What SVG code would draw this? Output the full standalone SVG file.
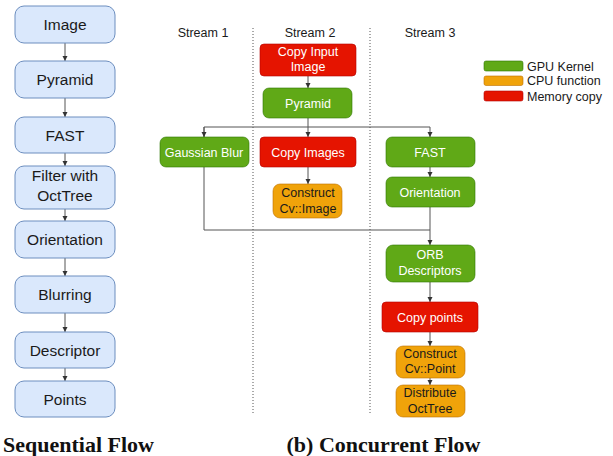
<svg xmlns="http://www.w3.org/2000/svg" width="613" height="456" viewBox="0 0 613 456">
<defs>
<marker id="ah" markerUnits="userSpaceOnUse" markerWidth="6" markerHeight="6" refX="5" refY="3" orient="auto">
<path d="M0,0.5 L5,3 L0,5.5 z" fill="#333"/>
</marker>
<style>
.lb{fill:#dae8fc;stroke:#6c8ebf;stroke-width:1}
.g{fill:#60a917;stroke:#2d7600;stroke-width:0.6}
.r{fill:#e51400;stroke:#b20000;stroke-width:0.6}
.o{fill:#f0a30a;stroke:#bd7000;stroke-width:0.6}
.t{font-family:"Liberation Sans",Arial,sans-serif;text-anchor:middle}
.tl{font-size:15.5px;fill:#1a1a1a}
.tw{font-size:12.5px;fill:#ffffff}
.tb{font-size:12.5px;fill:#1a1a1a}
.st{font-family:"Liberation Sans",Arial,sans-serif;font-size:12.5px;fill:#1a1a1a;text-anchor:middle}
.lg{font-family:"Liberation Sans",Arial,sans-serif;font-size:12.5px;fill:#1a1a1a}
.cap{font-family:"Liberation Serif","Times New Roman",serif;font-weight:bold;font-size:22px;fill:#111}
.c{fill:none;stroke:#555;stroke-width:1}
.ca{fill:none;stroke:#555;stroke-width:1;marker-end:url(#ah)}
.dl{stroke:#555;stroke-width:1;stroke-dasharray:1,2}
</style>
</defs>
<rect width="613" height="456" fill="#fff"/>

<!-- stream separators -->
<g id="lanes">
<line class="dl" x1="253" y1="28" x2="253" y2="415"/>
<line class="dl" x1="370" y1="28" x2="370" y2="415"/>
<text class="st" x="203" y="37">Stream 1</text>
<text class="st" x="310" y="37">Stream 2</text>
<text class="st" x="430" y="37">Stream 3</text>
</g>

<g id="connectors">
<!-- sequential -->
<line class="ca" x1="65" y1="43" x2="65" y2="61"/>
<line class="ca" x1="65" y1="98" x2="65" y2="117"/>
<line class="ca" x1="65" y1="153" x2="65" y2="166"/>
<line class="ca" x1="65" y1="209" x2="65" y2="221"/>
<line class="ca" x1="65" y1="258" x2="65" y2="276"/>
<line class="ca" x1="65" y1="313" x2="65" y2="332"/>
<line class="ca" x1="65" y1="368" x2="65" y2="381"/>
<!-- concurrent -->
<line class="ca" x1="308" y1="76" x2="308" y2="88"/>
<line class="ca" x1="308" y1="118" x2="308" y2="137"/>
<polyline class="c" points="204,137 204,127 430,127"/>
<line class="ca" x1="204" y1="127" x2="204" y2="137"/>
<line class="ca" x1="430" y1="127" x2="430" y2="137"/>
<line class="ca" x1="308" y1="167" x2="308" y2="184"/>
<line class="ca" x1="430" y1="167" x2="430" y2="177"/>
<polyline class="c" points="204,167 204,230 430,230"/>
<line class="ca" x1="430" y1="207" x2="430" y2="245"/>
<line class="ca" x1="430" y1="282" x2="430" y2="302"/>
<line class="ca" x1="430" y1="332" x2="430" y2="346"/>
<line class="ca" x1="430" y1="378" x2="430" y2="385"/>
</g>

<!-- sequential nodes -->
<g id="s-image"><rect class="lb" x="15" y="6" width="100" height="37" rx="9"/><text class="t tl" x="65" y="30">Image</text></g>
<g id="s-pyramid"><rect class="lb" x="15" y="61" width="100" height="37" rx="9"/><text class="t tl" x="65" y="85">Pyramid</text></g>
<g id="s-fast"><rect class="lb" x="15" y="117" width="100" height="36" rx="9"/><text class="t tl" x="65" y="140.5">FAST</text></g>
<g id="s-filter"><rect class="lb" x="15" y="166" width="100" height="43" rx="9"/><text class="t tl" x="65" y="180.5">Filter with</text><text class="t tl" x="65" y="200.5">OctTree</text></g>
<g id="s-orientation"><rect class="lb" x="15" y="221" width="100" height="37" rx="9"/><text class="t tl" x="65" y="245">Orientation</text></g>
<g id="s-blurring"><rect class="lb" x="15" y="276" width="100" height="37" rx="9"/><text class="t tl" x="65" y="300">Blurring</text></g>
<g id="s-descriptor"><rect class="lb" x="15" y="332" width="100" height="36" rx="9"/><text class="t tl" x="65" y="355.5">Descriptor</text></g>
<g id="s-points"><rect class="lb" x="15" y="381" width="100" height="36" rx="9"/><text class="t tl" x="65" y="404.5">Points</text></g>

<!-- concurrent nodes -->
<g id="c-copyinput"><rect class="r" x="260" y="44" width="96" height="32" rx="4"/><text class="t tw" x="308" y="55.5">Copy Input</text><text class="t tw" x="308" y="70.5">Image</text></g>
<g id="c-pyramid"><rect class="g" x="263" y="88" width="89" height="30" rx="6"/><text class="t tw" x="308" y="107.5">Pyramid</text></g>
<g id="c-gauss"><rect class="g" x="160" y="137" width="89" height="30" rx="6"/><text class="t tw" x="204" y="156.5">Gaussian Blur</text></g>
<g id="c-copyimages"><rect class="r" x="260" y="137" width="96" height="30" rx="4"/><text class="t tw" x="308" y="156.5">Copy Images</text></g>
<g id="c-cvimage"><rect class="o" x="273" y="184" width="69" height="34" rx="7"/><text class="t tb" x="308" y="196.5">Construct</text><text class="t tb" x="308" y="212.5">Cv::Image</text></g>
<g id="c-fast"><rect class="g" x="386" y="137" width="89" height="30" rx="6"/><text class="t tw" x="430" y="156.5">FAST</text></g>
<g id="c-orientation"><rect class="g" x="386" y="177" width="89" height="30" rx="6"/><text class="t tw" x="430" y="196.5">Orientation</text></g>
<g id="c-orb"><rect class="g" x="386" y="245" width="89" height="37" rx="7"/><text class="t tw" x="430" y="258.5">ORB</text><text class="t tw" x="430" y="274.5">Descriptors</text></g>
<g id="c-copypoints"><rect class="r" x="382" y="302" width="96" height="30" rx="4"/><text class="t tw" x="430" y="321.5">Copy points</text></g>
<g id="c-cvpoint"><rect class="o" x="396" y="346" width="69" height="32" rx="7"/><text class="t tb" x="430" y="357.5">Construct</text><text class="t tb" x="430" y="372.5">Cv::Point</text></g>
<g id="c-distribute"><rect class="o" x="396" y="385" width="69" height="32" rx="7"/><text class="t tb" x="430" y="396.5">Distribute</text><text class="t tb" x="430" y="412.5">OctTree</text></g>

<!-- legend -->
<g id="legend">
<rect class="g" x="484" y="61" width="39" height="10" rx="2"/><text class="lg" x="527" y="70.5">GPU Kernel</text>
<rect class="o" x="484" y="76" width="39" height="9.5" rx="2"/><text class="lg" x="527" y="85">CPU function</text>
<rect class="r" x="484" y="91" width="39" height="10" rx="2"/><text class="lg" x="527" y="101">Memory copy</text>
</g>

<g id="captions">
<text class="cap" x="3" y="452">Sequential Flow</text>
<text class="cap" x="383.5" y="452" text-anchor="middle">(b) Concurrent Flow</text>
</g>
</svg>
